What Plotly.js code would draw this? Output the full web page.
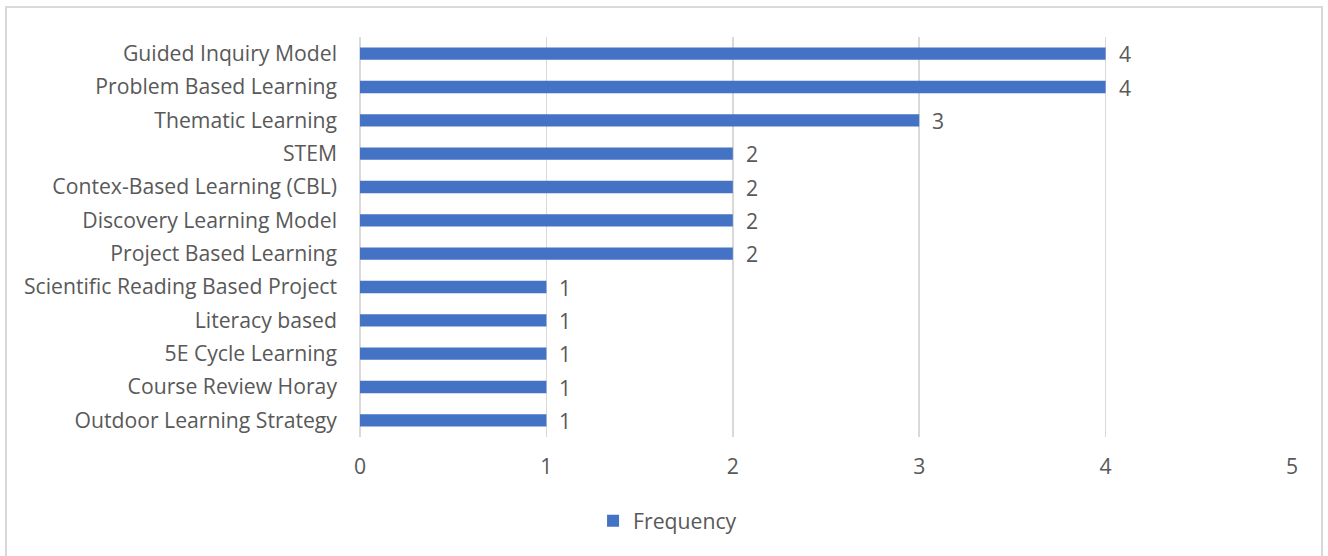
<!DOCTYPE html>
<html>
<head>
<meta charset="utf-8">
<script src="https://cdn.plot.ly/plotly-3.0.1.min.js"></script>
<style>
html,body{margin:0;padding:0;background:#fff;}
#wrap{position:relative;width:1328px;height:556px;overflow:hidden;}
#chart{position:absolute;left:0;top:0;width:1328px;height:556px;}
#border{position:absolute;left:5px;top:6px;width:1318px;height:560px;border:2px solid #d9d9d9;box-sizing:border-box;pointer-events:none;}
</style>
</head>
<body>
<div id="wrap"><div id="chart"></div><div id="border"></div></div>
<script>
const categories = [
  "Guided Inquiry Model",
  "Problem Based Learning",
  "Thematic Learning",
  "STEM",
  "Contex-Based Learning (CBL)",
  "Discovery Learning Model",
  "Project Based Learning",
  "Scientific Reading Based Project",
  "Literacy based",
  "5E Cycle Learning",
  "Course Review Horay",
  "Outdoor Learning Strategy"
];
const frequency = [4, 4, 3, 2, 2, 2, 2, 1, 1, 1, 1, 1];
const xTicks = [0, 1, 2, 3, 4, 5];

const font = {family: "Open Sans, Liberation Sans, sans-serif", size: 21.2, color: "#595959"};

const trace = {
  type: "bar",
  orientation: "h",
  name: "Frequency",
  y: categories,
  x: frequency,
  marker: {color: "#4472C4"},
  hoverinfo: "none"
};

const labels = categories.map((c, i) => ({
  x: frequency[i], y: c, xref: "x", yref: "y",
  text: String(frequency[i]),
  showarrow: false, xanchor: "left", yanchor: "middle",
  xshift: 11, yshift: 0,
  font: font
}));

const layout = {
  width: 1328, height: 556,
  margin: {l: 360, r: 36, t: 37, b: 119},
  paper_bgcolor: "#fff", plot_bgcolor: "#fff",
  font: font,
  bargap: 0.63,
  annotations: labels,
  xaxis: {
    range: [0, 5],
    tickvals: xTicks,
    ticktext: xTicks.map(String),
    showgrid: true, gridcolor: "#d9d9d9", gridwidth: 1.5,
    zeroline: true, zerolinecolor: "#d9d9d9", zerolinewidth: 1.5,
    showline: false, ticks: "",
    ticklabelstandoff: 15,
    tickfont: font,
    fixedrange: true
  },
  yaxis: {
    autorange: "reversed",
    showgrid: false, zeroline: false, showline: false, ticks: "",
    ticklabelstandoff: 22,
    tickfont: font,
    fixedrange: true
  },
  showlegend: true,
  legend: {
    orientation: "h",
    x: 0.33, xanchor: "center",
    y: -0.21, yanchor: "middle",
    font: font,
    itemwidth: 30
  }
};

Plotly.newPlot("chart", [trace], layout, {displayModeBar: false, staticPlot: true});
</script>
</body>
</html>
